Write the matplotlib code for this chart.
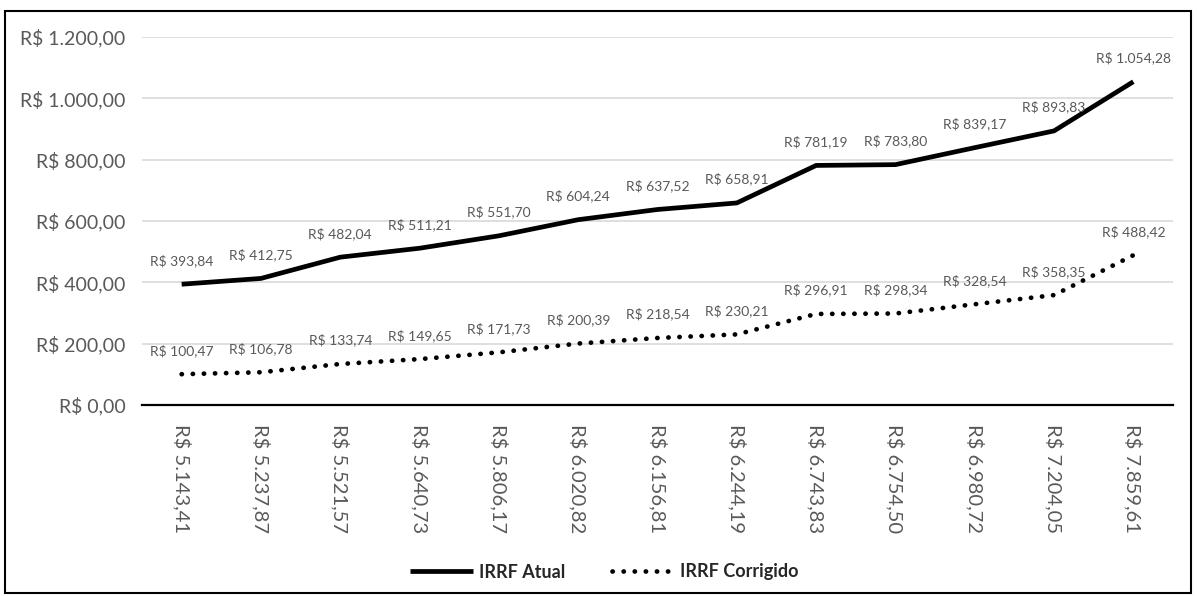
import matplotlib
matplotlib.use("Agg")
import matplotlib.pyplot as plt
from matplotlib.patches import Rectangle

plt.rcParams['font.family'] = ['Lato', 'DejaVu Sans']

salarios = ["R$ 5.143,41", "R$ 5.237,87", "R$ 5.521,57", "R$ 5.640,73", "R$ 5.806,17",
            "R$ 6.020,82", "R$ 6.156,81", "R$ 6.244,19", "R$ 6.743,83", "R$ 6.754,50",
            "R$ 6.980,72", "R$ 7.204,05", "R$ 7.859,61"]
irrf_atual = [393.84, 412.75, 482.04, 511.21, 551.70, 604.24, 637.52, 658.91,
              781.19, 783.80, 839.17, 893.83, 1054.28]
irrf_corrigido = [100.47, 106.78, 133.74, 149.65, 171.73, 200.39, 218.54, 230.21,
                  296.91, 298.34, 328.54, 358.35, 488.42]
y_ticks = [0, 200, 400, 600, 800, 1000, 1200]


def brl(v):
    s = f"{v:,.2f}".replace(",", "X").replace(".", ",").replace("X", ".")
    return f"R$ {s}"


GRAY = "#595959"
fig = plt.figure(figsize=(11.97, 5.96), dpi=100)
ax = fig.add_axes([142 / 1197, 1 - 405 / 596, (1173 - 142) / 1197, 368 / 596])

x = list(range(len(salarios)))
ax.plot(x, irrf_atual, color="black", lw=3.4, solid_capstyle="butt",
        solid_joinstyle="miter", label="IRRF Atual", zorder=3)
ax.plot(x, irrf_corrigido, color="black", lw=3.4, linestyle=(0, (0.05, 2.3)),
        dash_capstyle="round", label="IRRF Corrigido", zorder=3)

for series in (irrf_atual, irrf_corrigido):
    for xi, v in zip(x, series):
        ax.annotate(brl(v), (xi, v), xytext=(0, 12.5), textcoords="offset points",
                    ha="center", va="bottom", fontsize=10, color=GRAY)

ax.set_xlim(-0.5, len(salarios) - 0.5)
ax.set_ylim(0, 1200)
ax.set_yticks(y_ticks)
ax.set_yticklabels([brl(v) for v in y_ticks], fontsize=14, color=GRAY)
ax.set_xticks(x)
ax.set_xticklabels(salarios, rotation=270, fontsize=14.5, color=GRAY)
ax.tick_params(axis="y", length=0, pad=12)
ax.tick_params(axis="x", length=0, pad=14)

ax.grid(axis="y", color="#d9d9d9", lw=1.2)
ax.set_axisbelow(True)
for side in ("top", "right", "left"):
    ax.spines[side].set_visible(False)
ax.spines["bottom"].set_color("black")
ax.spines["bottom"].set_linewidth(1.6)

leg = fig.legend(loc="center", bbox_to_anchor=(0.505, 1 - 572 / 596), ncol=2,
                 frameon=False, handlelength=3.5, handletextpad=0.3,
                 columnspacing=2.6, prop={"size": 13, "weight": "bold"})
for t in leg.get_texts():
    t.set_color("#262626")

fig.patches.append(Rectangle((5 / 1197, 3 / 596), 1186 / 1197, 582 / 596,
                             transform=fig.transFigure, fill=False,
                             edgecolor="black", lw=1.5))

fig.savefig("out.png", dpi=100)
